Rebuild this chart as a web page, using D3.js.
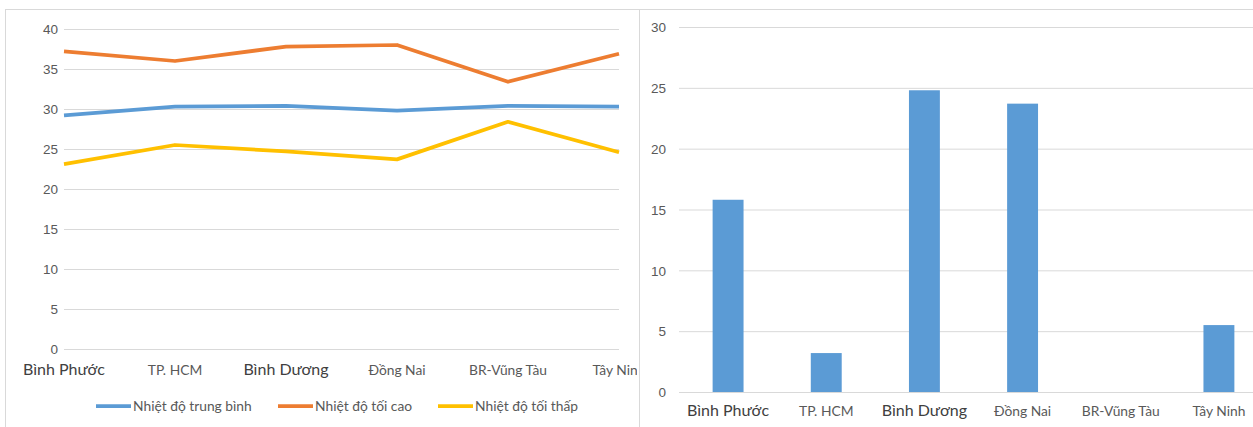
<!DOCTYPE html>
<html>
<head>
<meta charset="utf-8">
<script src="https://cdnjs.cloudflare.com/ajax/libs/d3/7.8.5/d3.min.js"></script>
<style>
  body { margin: 0; background: #fff; }
  svg { font-family: Lato, "Open Sans", sans-serif; }
  .tick text { fill: #595959; font-size: 13.5px; }
  .grid line { stroke: #d9d9d9; stroke-width: 1; }
  .grid .domain { display: none; }
  .label { fill: #595959; }
  .label.big { fill: #404040; font-size: 16px; }
  .label.small { font-size: 13.8px; }
</style>
</head>
<body>
<svg width="1253" height="427"></svg>
<script>
// categories (provinces)
const categories = ['Bình Phước', 'TP. HCM', 'Bình Dương', 'Đồng Nai', 'BR-Vũng Tàu', 'Tây Ninh'];
// bigger labels in the original
const bigLabels = ['Bình Phước', 'Bình Dương'];

// left chart: temperatures
const avgTemp = [29.2, 30.3, 30.4, 29.8, 30.4, 30.3];
const maxTemp = [37.2, 36.0, 37.8, 38.0, 33.4, 36.9];
const minTemp = [23.1, 25.5, 24.7, 23.7, 28.4, 24.6];
const seriesNames = ['Nhiệt độ trung bình', 'Nhiệt độ tối cao', 'Nhiệt độ tối thấp'];
const seriesColors = ['#5b9bd5', '#ed7d31', '#ffc000'];
const lineTicks = [0, 5, 10, 15, 20, 25, 30, 35, 40];

// right chart: bars
const barValues = [15.8, 3.2, 24.8, 23.7, 0, 5.5];
const barTicks = [0, 5, 10, 15, 20, 25, 30];

const svg = d3.select('svg');

// clip for the left panel (last label is cut by the panel edge)
svg.append('clipPath')
  .attr('id', 'leftClip')
  .append('rect')
  .attr('x', 0).attr('y', 0)
  .attr('width', 637).attr('height', 427);

// panel borders
svg.append('rect')
  .attr('x', 5.5).attr('y', 9.5)
  .attr('width', 634).attr('height', 430)
  .attr('fill', 'none').attr('stroke', '#d9d9d9');
svg.append('rect')
  .attr('x', 639.5).attr('y', 9.5)
  .attr('width', 630).attr('height', 430)
  .attr('fill', 'none').attr('stroke', '#d9d9d9');

var drawLines = function(){
  const x0 = 64, x1 = 619, y0 = 349, y1 = 29;

  const xScale = d3.scalePoint()
    .domain(categories)
    .range([x0, x1]);

  const yScale = d3.scaleLinear()
    .domain([0, 40])
    .range([y0, y1]);

  const chart = svg.append('g')
    .attr('clip-path', 'url(#leftClip)');

  chart.append('g')
    .attr('class', 'grid')
    .attr('transform', `translate(${x0},0)`)
    .call(d3.axisLeft(yScale).tickValues(lineTicks).tickSize(-(x1 - x0)).tickFormat(''));

  chart.append('g')
    .attr('transform', `translate(${x0 - 6},0)`)
    .call(d3.axisLeft(yScale).tickValues(lineTicks).tickSize(0).tickPadding(0))
    .call(g => g.select('.domain').remove())
    .selectAll('text').attr('dy', '0.35em');

  const all = [avgTemp, maxTemp, minTemp];
  const line = d3.line()
    .x((d, i) => xScale(categories[i]))
    .y(d => yScale(d));

  all.forEach((s, k) => {
    chart.append('path')
      .datum(s)
      .attr('fill', 'none')
      .attr('stroke', seriesColors[k])
      .attr('stroke-width', 3.75)
      .attr('stroke-linejoin', 'round')
      .attr('d', line);
  });

  chart.selectAll('.xlab')
    .data(categories)
    .enter()
    .append('text')
    .attr('class', d => 'label ' + (bigLabels.includes(d) ? 'big' : 'small'))
    .attr('x', d => xScale(d))
    .attr('y', 375)
    .attr('text-anchor', 'middle')
    .text(d => d);

  // legend
  const legendX = [96, 278, 438];
  seriesNames.forEach((name, k) => {
    chart.append('line')
      .attr('x1', legendX[k]).attr('x2', legendX[k] + 35)
      .attr('y1', 406).attr('y2', 406)
      .attr('stroke', seriesColors[k])
      .attr('stroke-width', 3.75);
    chart.append('text')
      .attr('class', 'label')
      .attr('x', legendX[k] + 37)
      .attr('y', 411)
      .style('font-size', '13.8px')
      .text(name);
  });
}

var drawBars = function(){
  const x0 = 679, x1 = 1268, y0 = 392, y1 = 27;

  const xScale = d3.scaleBand()
    .domain(categories)
    .range([x0, x1])
    .paddingInner(0.685)
    .paddingOuter(0.3425);

  const yScale = d3.scaleLinear()
    .domain([0, 30])
    .range([y0, y1]);

  const chart = svg.append('g');

  chart.append('g')
    .attr('class', 'grid')
    .attr('transform', `translate(${x0},0)`)
    .call(d3.axisLeft(yScale).tickValues(barTicks).tickSize(-(x1 - x0)).tickFormat(''));

  chart.append('g')
    .attr('transform', `translate(${x0 - 13},0)`)
    .call(d3.axisLeft(yScale).tickValues(barTicks).tickSize(0).tickPadding(0))
    .call(g => g.select('.domain').remove())
    .selectAll('text').attr('dy', '0.35em');

  chart.selectAll('.bar')
    .data(barValues)
    .enter()
    .append('rect')
    .attr('class', 'bar')
    .attr('x', (d, i) => xScale(categories[i]))
    .attr('y', d => yScale(d))
    .attr('width', xScale.bandwidth())
    .attr('height', d => y0 - yScale(d))
    .attr('fill', '#5b9bd5');

  chart.selectAll('.xlab')
    .data(categories)
    .enter()
    .append('text')
    .attr('class', d => 'label ' + (bigLabels.includes(d) ? 'big' : 'small'))
    .attr('x', d => xScale(d) + xScale.bandwidth() / 2)
    .attr('y', 416)
    .attr('text-anchor', 'middle')
    .text(d => d);
}

drawLines();
drawBars();
</script>
</body>
</html>
